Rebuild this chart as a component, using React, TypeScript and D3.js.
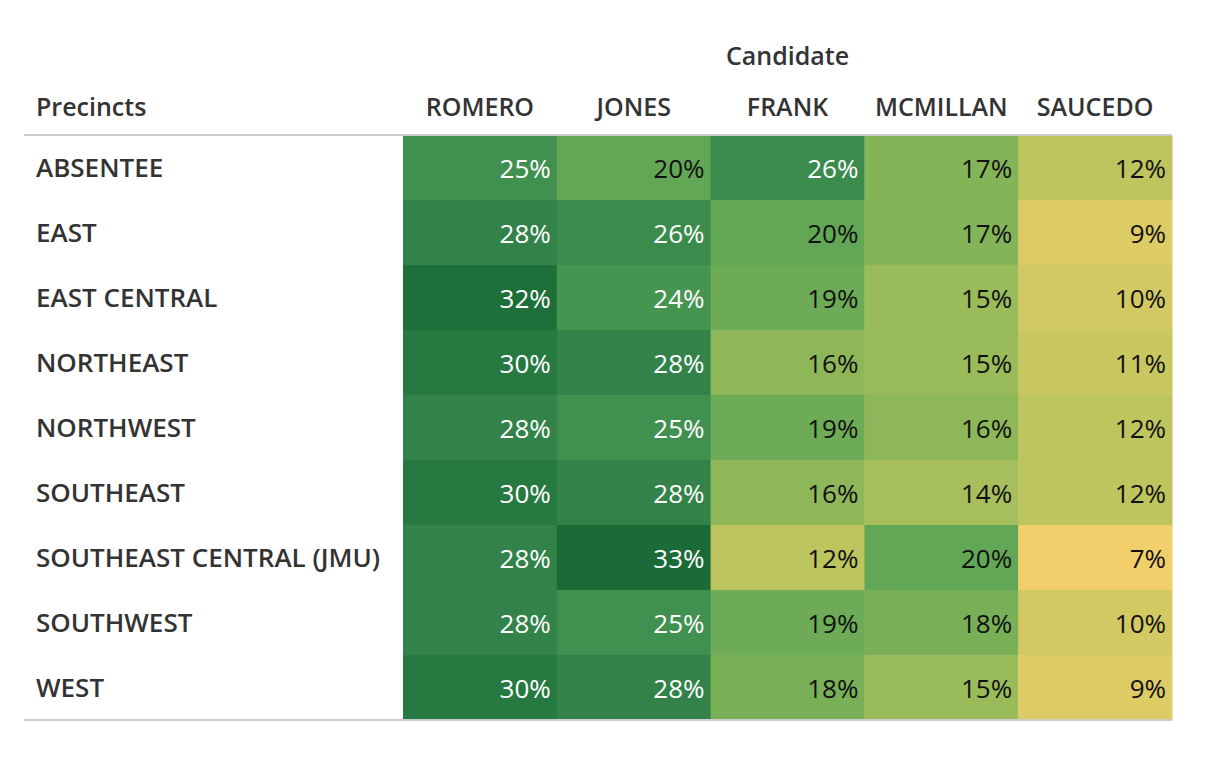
import * as d3 from 'd3'

const candidates = ['ROMERO', 'JONES', 'FRANK', 'MCMILLAN', 'SAUCEDO']
const precincts = [
  'ABSENTEE',
  'EAST',
  'EAST CENTRAL',
  'NORTHEAST',
  'NORTHWEST',
  'SOUTHEAST',
  'SOUTHEAST CENTRAL (JMU)',
  'SOUTHWEST',
  'WEST',
]
// percent per precinct, in candidate order
const shares = [
  [25, 20, 26, 17, 12],
  [28, 26, 20, 17, 9],
  [32, 24, 19, 15, 10],
  [30, 28, 16, 15, 11],
  [28, 25, 19, 16, 12],
  [30, 28, 16, 14, 12],
  [28, 33, 12, 20, 7],
  [28, 25, 19, 18, 10],
  [30, 28, 18, 15, 9],
]

const goldGreen = [
  '#f2cf6a', '#d7ca63', '#bcc45e', '#9cbc5a', '#7eb257', '#62a756',
  '#4c9c53', '#3f8f4f', '#33834a', '#257740', '#1a6b37',
]

const TEXT = '#333333'
const FONT = "'Open Sans', sans-serif"

export default function App() {
  const width = 1228
  const height = 769
  const gridLeft = 403
  const gridRight = 1172
  const gridTop = 135
  const gridBottom = 720
  const lineLeft = 24

  const x = d3.scaleBand().domain(candidates).range([gridLeft, gridRight])
  const y = d3.scaleBand().domain(precincts).range([gridTop, gridBottom])

  const color = d3
    .scaleLinear<string>()
    .domain(goldGreen.map((_, i) => 7 + (26 * i) / (goldGreen.length - 1)))
    .range(goldGreen)
    .interpolate(d3.interpolateRgb)

  return (
    <svg
      width={width}
      height={height}
      style={{position: 'absolute', left: 0, top: 0, background: '#fff'}}
      fontFamily={FONT}
    >
      <text x={(gridLeft + gridRight) / 2} y={65} textAnchor="middle" fontSize={25} fontWeight={600} fill={TEXT}>
        Candidate
      </text>
      <text x={36} y={116} fontSize={25} fontWeight={600} fill={TEXT}>
        Precincts
      </text>
      {candidates.map(c => (
        <text
          key={c}
          x={(x(c) ?? 0) + x.bandwidth() / 2}
          y={116}
          textAnchor="middle"
          fontSize={25}
          fontWeight={600}
          fill={TEXT}
        >
          {c}
        </text>
      ))}

      {precincts.map((p, i) => (
        <g key={p}>
          <text x={36} y={(y(p) ?? 0) + y.bandwidth() / 2 + 9} fontSize={26} fontWeight={600} fill={TEXT}>
            {p}
          </text>
          {candidates.map((c, j) => {
            const v = shares[i][j]
            return (
              <g key={c}>
                <rect
                  x={x(c)}
                  y={y(p)}
                  width={x.bandwidth() + 0.5}
                  height={y.bandwidth() + 0.5}
                  fill={color(v)}
                />
                <text
                  x={(x(c) ?? 0) + x.bandwidth() - 6}
                  y={(y(p) ?? 0) + y.bandwidth() / 2 + 10}
                  textAnchor="end"
                  fontSize={26}
                  fontWeight={400}
                  fill={v >= 22 ? '#ffffff' : '#111111'}
                >
                  {v}%
                </text>
              </g>
            )
          })}
        </g>
      ))}

      <line x1={lineLeft} x2={gridRight} y1={gridTop} y2={gridTop} stroke="#cccccc" strokeWidth={2} />
      <line x1={lineLeft} x2={gridRight} y1={gridBottom} y2={gridBottom} stroke="#cccccc" strokeWidth={2} />
    </svg>
  )
}
